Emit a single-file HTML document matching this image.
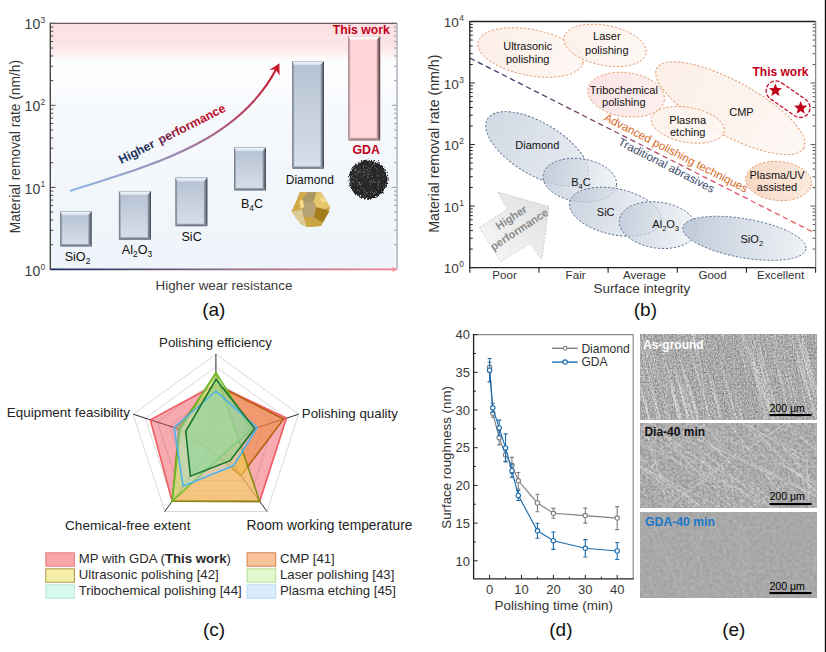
<!DOCTYPE html>
<html><head><meta charset="utf-8"><style>
html,body{margin:0;padding:0;background:#fff;overflow:hidden;}
svg{display:block;font-family:"Liberation Sans", sans-serif;}
</style></head><body>
<svg width="826" height="652" viewBox="0 0 826 652">
<defs>
<linearGradient id="bgA" x1="0" y1="0" x2="0" y2="1">
 <stop offset="0" stop-color="#fbdfe2"/>
 <stop offset="0.09" stop-color="#fce5e7"/>
 <stop offset="0.118" stop-color="#fdedef"/>
 <stop offset="0.142" stop-color="#fef9f9"/>
 <stop offset="0.16" stop-color="#fdfeff"/>
 <stop offset="0.35" stop-color="#f6f9fc"/>
 <stop offset="1" stop-color="#eef4fa"/>
</linearGradient>
<linearGradient id="barFace" x1="0" y1="0" x2="0" y2="1">
 <stop offset="0" stop-color="#b5c1d1"/>
 <stop offset="1" stop-color="#d7dfeb"/>
</linearGradient>
<linearGradient id="barFaceP" x1="0" y1="0" x2="0" y2="1">
 <stop offset="0" stop-color="#ffd3d6"/>
 <stop offset="1" stop-color="#ffd7da"/>
</linearGradient>
<linearGradient id="barRight" x1="1" y1="0" x2="0" y2="0">
 <stop offset="0" stop-color="#4e5666"/>
 <stop offset="1" stop-color="#8d97a7"/>
</linearGradient>
<linearGradient id="barRightP" x1="1" y1="0" x2="0" y2="0">
 <stop offset="0" stop-color="#5e3e44"/>
 <stop offset="1" stop-color="#b58c92"/>
</linearGradient>
<linearGradient id="axA" gradientUnits="userSpaceOnUse" x1="50" y1="0" x2="397" y2="0">
 <stop offset="0" stop-color="#1c2f5c"/>
 <stop offset="0.5" stop-color="#8a6a86"/>
 <stop offset="1" stop-color="#f2858f"/>
</linearGradient>
<linearGradient id="arrA" gradientUnits="userSpaceOnUse" x1="71" y1="191" x2="279" y2="64">
 <stop offset="0" stop-color="#92b8e2"/>
 <stop offset="0.45" stop-color="#9a88b0"/>
 <stop offset="1" stop-color="#c8182c"/>
</linearGradient>
<linearGradient id="hpA" x1="0" y1="0" x2="1" y2="0">
 <stop offset="0" stop-color="#1c3462"/>
 <stop offset="0.28" stop-color="#2a3058"/>
 <stop offset="0.4" stop-color="#6a2448"/>
 <stop offset="0.55" stop-color="#a01832"/>
 <stop offset="1" stop-color="#c4102a"/>
</linearGradient>

<linearGradient id="bvT" x1="0" y1="0" x2="0" y2="1"><stop offset="0" stop-color="#98a6ba"/><stop offset="0.3" stop-color="#edf4fc"/><stop offset="1" stop-color="#d4dde9"/></linearGradient>
<linearGradient id="bvR" x1="1" y1="0" x2="0" y2="0"><stop offset="0" stop-color="#3f444d"/><stop offset="0.45" stop-color="#6c7482"/><stop offset="1" stop-color="#a9b3c3"/></linearGradient>
<linearGradient id="bvB" x1="0" y1="1" x2="0" y2="0"><stop offset="0" stop-color="#5f6571"/><stop offset="0.5" stop-color="#7d8594"/><stop offset="1" stop-color="#b4bccb"/></linearGradient>
<linearGradient id="bvL" x1="0" y1="0" x2="1" y2="0"><stop offset="0" stop-color="#687080"/><stop offset="1" stop-color="#adb7c7"/></linearGradient>
<linearGradient id="bvTP" x1="0" y1="0" x2="0" y2="1"><stop offset="0" stop-color="#e8b8bc"/><stop offset="0.3" stop-color="#ffffff"/><stop offset="1" stop-color="#ffe4e6"/></linearGradient>
<linearGradient id="bvRP" x1="1" y1="0" x2="0" y2="0"><stop offset="0" stop-color="#4a383c"/><stop offset="0.45" stop-color="#86666c"/><stop offset="1" stop-color="#dcb4b8"/></linearGradient>
<linearGradient id="bvBP" x1="0" y1="1" x2="0" y2="0"><stop offset="0" stop-color="#8c6c72"/><stop offset="1" stop-color="#d0aeb2"/></linearGradient>
<linearGradient id="bvLP" x1="0" y1="0" x2="1" y2="0"><stop offset="0" stop-color="#8a7076"/><stop offset="1" stop-color="#e6c2c6"/></linearGradient>

<radialGradient id="gdaBall" cx="0.45" cy="0.42" r="0.6">
 <stop offset="0" stop-color="#2c2c2c"/>
 <stop offset="0.8" stop-color="#222"/>
 <stop offset="1" stop-color="#1c1c1c"/>
</radialGradient>
<filter id="fuzz" x="-20%" y="-20%" width="140%" height="140%">
 <feTurbulence type="turbulence" baseFrequency="0.55" numOctaves="2" seed="3" result="n"/>
 <feDisplacementMap in="SourceGraphic" in2="n" scale="4.5" xChannelSelector="R" yChannelSelector="G"/>
</filter>
<filter id="speck" x="0" y="0" width="100%" height="100%" color-interpolation-filters="sRGB">
 <feTurbulence type="fractalNoise" baseFrequency="0.5" numOctaves="2" seed="7"/>
 <feColorMatrix type="matrix" values="0 0 0 0 0.42  0 0 0 0 0.42  0 0 0 0 0.42  0 0 0 3.5 -1.75"/>
 <feComposite in2="SourceGraphic" operator="in"/>
</filter>

<linearGradient id="dashB" gradientUnits="userSpaceOnUse" x1="470" y1="58" x2="815" y2="232">
 <stop offset="0" stop-color="#2e3868"/>
 <stop offset="0.45" stop-color="#8a4a6a"/>
 <stop offset="0.7" stop-color="#e0506a"/>
 <stop offset="1" stop-color="#f05a64"/>
</linearGradient>
<linearGradient id="blueE" x1="0" y1="0" x2="1" y2="0">
 <stop offset="0" stop-color="#bac5d5"/>
 <stop offset="1" stop-color="#eef1f5"/>
</linearGradient>
<linearGradient id="blueE2" x1="0" y1="0" x2="1" y2="0">
 <stop offset="0" stop-color="#ccd5e1"/>
 <stop offset="1" stop-color="#e6eaf0"/>
</linearGradient>
<linearGradient id="orE" x1="0" y1="0" x2="1" y2="0">
 <stop offset="0" stop-color="#fcefe8"/>
 <stop offset="1" stop-color="#fdf7f3"/>
</linearGradient>
<linearGradient id="pinkE" x1="0" y1="0" x2="1" y2="0">
 <stop offset="0" stop-color="#fbe3e6"/>
 <stop offset="1" stop-color="#fdf0ef"/>
</linearGradient>
<linearGradient id="uvE" x1="0" y1="0" x2="1" y2="0">
 <stop offset="0" stop-color="#f6d9c4"/>
 <stop offset="1" stop-color="#fbeadf"/>
</linearGradient>
<linearGradient id="hpB" x1="0" y1="1" x2="1" y2="0">
 <stop offset="0" stop-color="#f9f9f9"/>
 <stop offset="1" stop-color="#dedede"/>
</linearGradient>

<filter id="semBase1" x="0" y="0" width="100%" height="100%" color-interpolation-filters="sRGB">
 <feTurbulence type="fractalNoise" baseFrequency="0.9 0.6" numOctaves="2" seed="11"/>
 <feColorMatrix type="matrix" values="0.5 0 0 0 0.42  0.5 0 0 0 0.42  0.5 0 0 0 0.42  0 0 0 0 1"/>
</filter>
<filter id="semBase2" x="0" y="0" width="100%" height="100%" color-interpolation-filters="sRGB">
 <feTurbulence type="fractalNoise" baseFrequency="0.35" numOctaves="3" seed="23"/>
 <feColorMatrix type="matrix" values="0.26 0 0 0 0.545  0.26 0 0 0 0.545  0.26 0 0 0 0.545  0 0 0 0 1"/>
</filter>
<filter id="semBase3" x="0" y="0" width="100%" height="100%" color-interpolation-filters="sRGB">
 <feTurbulence type="fractalNoise" baseFrequency="0.3" numOctaves="2" seed="5"/>
 <feColorMatrix type="matrix" values="0.12 0 0 0 0.6  0.12 0 0 0 0.6  0.12 0 0 0 0.6  0 0 0 0 1"/>
</filter>
<filter id="streak" x="0" y="0" width="100%" height="100%" color-interpolation-filters="sRGB">
 <feTurbulence type="fractalNoise" baseFrequency="0.01 0.55" numOctaves="2" seed="3"/>
 <feColorMatrix type="matrix" values="0 0 0 0 1  0 0 0 0 1  0 0 0 0 1  2.6 0 0 0 -1.35"/>
</filter>
<filter id="speck" x="0" y="0" width="100%" height="100%" color-interpolation-filters="sRGB">
 <feTurbulence type="turbulence" baseFrequency="0.9" numOctaves="1" seed="9"/>
 <feColorMatrix type="matrix" values="0 0 0 0 1  0 0 0 0 1  0 0 0 0 1  0 0 0 4 -1.6"/>
</filter>
<clipPath id="c1"><rect x="640" y="334" width="176.3" height="85.6"/></clipPath>
<clipPath id="c2"><rect x="640" y="423.3" width="176.3" height="84.3"/></clipPath>
<clipPath id="c3"><rect x="640" y="512.3" width="176.3" height="85"/></clipPath>
</defs>
<rect width="826" height="652" fill="#fff"/>
<rect x="50.3" y="23.3" width="346.7" height="246.1" fill="url(#bgA)"/>
<path d="M50.3,269.4h5.2 M50.3,244.71h3 M50.3,230.26h3 M50.3,220.01h3 M50.3,212.06h3 M50.3,205.57h3 M50.3,200.07h3 M50.3,195.32h3 M50.3,191.12h3 M50.3,187.37h5.2 M50.3,162.67h3 M50.3,148.23h3 M50.3,137.98h3 M50.3,130.03h3 M50.3,123.53h3 M50.3,118.04h3 M50.3,113.28h3 M50.3,109.09h3 M50.3,105.33h5.2 M50.3,80.64h3 M50.3,66.19h3 M50.3,55.94h3 M50.3,47.99h3 M50.3,41.5h3 M50.3,36.01h3 M50.3,31.25h3 M50.3,27.05h3 M50.3,23.3h5.2" stroke="#4a4a4a" stroke-width="1"/>
<path d="M397.0,269.4h-5.2 M397.0,244.71h-3 M397.0,230.26h-3 M397.0,220.01h-3 M397.0,212.06h-3 M397.0,205.57h-3 M397.0,200.07h-3 M397.0,195.32h-3 M397.0,191.12h-3 M397.0,187.37h-5.2 M397.0,162.67h-3 M397.0,148.23h-3 M397.0,137.98h-3 M397.0,130.03h-3 M397.0,123.53h-3 M397.0,118.04h-3 M397.0,113.28h-3 M397.0,109.09h-3 M397.0,105.33h-5.2 M397.0,80.64h-3 M397.0,66.19h-3 M397.0,55.94h-3 M397.0,47.99h-3 M397.0,41.5h-3 M397.0,36.01h-3 M397.0,31.25h-3 M397.0,27.05h-3 M397.0,23.3h-5.2" stroke="#9aa0a8" stroke-width="1"/>
<line x1="50.3" y1="23.3" x2="397.0" y2="23.3" stroke="#6e5c60" stroke-width="1.3"/>
<line x1="50.3" y1="22.7" x2="50.3" y2="269.4" stroke="#474747" stroke-width="1.4"/>
<line x1="397.0" y1="23.3" x2="397.0" y2="269.4" stroke="#a4aab2" stroke-width="1.3"/>
<line x1="50.3" y1="269.4" x2="394.0" y2="269.4" stroke="url(#axA)" stroke-width="1.6"/>
<path d="M397.5,269.4 L392.0,266.79999999999995 L393.4,269.4 L392.0,272.0Z" fill="#f2858f"/>
<text x="40.2" y="275.95" font-size="14" text-anchor="end" fill="#3c3c3c">10</text>
<text x="40.6" y="269.65" font-size="8.6" fill="#3c3c3c">0</text>
<text x="40.2" y="193.67" font-size="14" text-anchor="end" fill="#3c3c3c">10</text>
<text x="40.6" y="187.37" font-size="8.6" fill="#3c3c3c">1</text>
<text x="40.2" y="111.38" font-size="14" text-anchor="end" fill="#3c3c3c">10</text>
<text x="40.6" y="105.08" font-size="8.6" fill="#3c3c3c">2</text>
<text x="40.2" y="29.1" font-size="14" text-anchor="end" fill="#3c3c3c">10</text>
<text x="40.6" y="22.8" font-size="8.6" fill="#3c3c3c">3</text>
<text transform="translate(19.6,146.5) rotate(-90)" font-size="13.8" text-anchor="middle" fill="#333">Material removal rate (nm/h)</text>
<text x="224" y="290" font-size="13.4" text-anchor="middle" fill="#3a3a3a" font-weight="normal" >Higher wear resistance</text>
<text x="213.8" y="316" font-size="19" text-anchor="middle" fill="#111" font-weight="normal" >(a)</text>
<rect x="60.2" y="211.2" width="31.5" height="35.3" fill="url(#barFace)"/><polygon points="60.2,211.2 91.7,211.2 88.1,215.2 62.2,215.2" fill="url(#bvT)"/><polygon points="60.2,246.5 91.7,246.5 88.1,243.9 62.2,243.9" fill="url(#bvB)"/><polygon points="91.7,211.2 91.7,246.5 88.1,243.9 88.1,215.2" fill="url(#bvR)"/><polygon points="60.2,211.2 62.2,215.2 62.2,243.9 60.2,246.5" fill="url(#bvL)"/>
<rect x="118.9" y="191" width="32.1" height="48.7" fill="url(#barFace)"/><polygon points="118.9,191 151,191 147.4,195 120.9,195" fill="url(#bvT)"/><polygon points="118.9,239.7 151,239.7 147.4,237.1 120.9,237.1" fill="url(#bvB)"/><polygon points="151,191 151,239.7 147.4,237.1 147.4,195" fill="url(#bvR)"/><polygon points="118.9,191 120.9,195 120.9,237.1 118.9,239.7" fill="url(#bvL)"/>
<rect x="175.4" y="177.5" width="32" height="48.7" fill="url(#barFace)"/><polygon points="175.4,177.5 207.4,177.5 203.8,181.5 177.4,181.5" fill="url(#bvT)"/><polygon points="175.4,226.2 207.4,226.2 203.8,223.6 177.4,223.6" fill="url(#bvB)"/><polygon points="207.4,177.5 207.4,226.2 203.8,223.6 203.8,181.5" fill="url(#bvR)"/><polygon points="175.4,177.5 177.4,181.5 177.4,223.6 175.4,226.2" fill="url(#bvL)"/>
<rect x="234" y="147.3" width="32" height="43.1" fill="url(#barFace)"/><polygon points="234,147.3 266,147.3 262.4,151.3 236,151.3" fill="url(#bvT)"/><polygon points="234,190.4 266,190.4 262.4,187.8 236,187.8" fill="url(#bvB)"/><polygon points="266,147.3 266,190.4 262.4,187.8 262.4,151.3" fill="url(#bvR)"/><polygon points="234,147.3 236,151.3 236,187.8 234,190.4" fill="url(#bvL)"/>
<rect x="292.2" y="61" width="31.8" height="107.8" fill="url(#barFace)"/><polygon points="292.2,61 324,61 320.4,65 294.2,65" fill="url(#bvT)"/><polygon points="292.2,168.8 324,168.8 320.4,166.2 294.2,166.2" fill="url(#bvB)"/><polygon points="324,61 324,168.8 320.4,166.2 320.4,65" fill="url(#bvR)"/><polygon points="292.2,61 294.2,65 294.2,166.2 292.2,168.8" fill="url(#bvL)"/>
<rect x="348.3" y="36" width="31.9" height="104.4" fill="url(#barFaceP)"/><polygon points="348.3,36 380.2,36 376.6,40 350.3,40" fill="url(#bvTP)"/><polygon points="348.3,140.4 380.2,140.4 376.6,137.8 350.3,137.8" fill="url(#bvBP)"/><polygon points="380.2,36 380.2,140.4 376.6,137.8 376.6,40" fill="url(#bvRP)"/><polygon points="348.3,36 350.3,40 350.3,137.8 348.3,140.4" fill="url(#bvLP)"/>
<text x="77.5" y="260.8" font-size="12.6" fill="#111" text-anchor="middle">SiO<tspan font-size="8.5" dy="3">2</tspan></text>
<text x="137" y="253.5" font-size="12.6" fill="#111" text-anchor="middle">Al<tspan font-size="8.5" dy="3">2</tspan><tspan dy="-3">O</tspan><tspan font-size="8.5" dy="3">3</tspan></text>
<text x="191.6" y="241.4" font-size="12.6" fill="#111" text-anchor="middle">SiC</text>
<text x="252" y="207.6" font-size="12.6" fill="#111" text-anchor="middle">B<tspan font-size="8.5" dy="3">4</tspan><tspan dy="-3">C</tspan></text>
<text x="309.8" y="183.5" font-size="12" fill="#111" text-anchor="middle">Diamond</text>
<text x="366.2" y="154" font-size="12.4" fill="#c00018" font-weight="bold" text-anchor="middle">GDA</text>
<text x="361.3" y="34" font-size="12.2" fill="#c00018" font-weight="bold" text-anchor="middle">This work</text>
<path d="M70.8,190.8 C148.7,165.9 238,143 276.5,68.5" fill="none" stroke="url(#arrA)" stroke-width="2.1" stroke-linecap="round"/>
<path d="M279.4,63.2 L269.4,69.9 L275.6,69.6 L279.6,75.6 Z" fill="#c8182c"/>
<text transform="translate(121.3,164.1) rotate(-26.8)" font-size="12.2" font-weight="bold" fill="url(#hpA)" word-spacing="2">Higher performance</text>
<g filter="url(#fuzz)"><circle cx="367.1" cy="178.3" r="19.6" fill="url(#gdaBall)"/><circle cx="367.1" cy="178.3" r="19.2" fill="#000" filter="url(#speck)"/></g>
<g stroke-linejoin="round">
<polygon points="299.9,192.2 320.9,192.2 329.9,206.7 329.2,211.2 320.9,226 306.7,227 300.6,224.1 291.5,211.8 296.4,200.9" fill="#c8a450"/>
<polygon points="301.9,199.3 307.3,192.2 316.4,192.2 313.8,201.5 304.8,202.8" fill="#a99866"/>
<polygon points="304.8,202.8 313.8,201.5 316.4,207.3 313.8,217.6 303.5,217 301.9,209.3" fill="#b6a274"/>
<polygon points="316.4,192.2 320.9,192.2 329.9,206.7 324.1,209.3 316.4,207.3 313.8,201.5" fill="#e6c66c"/>
<polygon points="316.4,207.3 324.1,209.3 329.2,211.2 322.8,222.8 313.8,217.6" fill="#a47c1c"/>
<polygon points="313.8,217.6 322.8,222.8 320.9,226 306.7,227 303.5,217" fill="#cba444"/>
<polygon points="291.5,211.8 301.9,209.3 303.5,217 306.7,227 300.6,224.1" fill="#dccb98"/>
<polygon points="296.4,200.9 299.9,192.2 307.3,192.2 301.9,199.3 301.9,209.3 291.5,211.8" fill="#d4aa48"/>
<polygon points="299.5,201 303,199.5 304,207 300.5,209" fill="#f6dc88"/>
<polygon points="322,196 326,201 324,204 319.5,199" fill="#f4dc90" opacity="0.8"/>
</g>
<ellipse cx="530.5" cy="52.5" rx="53.5" ry="23" transform="rotate(11 530.5 52.5)" fill="url(#orE)" fill-opacity="1.0" stroke="#e2925e" stroke-width="0.9" stroke-dasharray="2.2,1.8"/>
<ellipse cx="605" cy="45.4" rx="41.8" ry="20" transform="rotate(11 605 45.4)" fill="url(#orE)" fill-opacity="0.85" stroke="#e2925e" stroke-width="0.9" stroke-dasharray="2.2,1.8"/>
<ellipse cx="626.2" cy="94.7" rx="38.5" ry="22" transform="rotate(8 626.2 94.7)" fill="url(#pinkE)" fill-opacity="1.0" stroke="#e2925e" stroke-width="0.9" stroke-dasharray="2.2,1.8"/>
<ellipse cx="730.3" cy="108.2" rx="83.6" ry="27" transform="rotate(28.5 730.3 108.2)" fill="url(#orE)" fill-opacity="1.0" stroke="#e2925e" stroke-width="0.9" stroke-dasharray="2.2,1.8"/>
<ellipse cx="687.7" cy="124.8" rx="37" ry="17.5" transform="rotate(10 687.7 124.8)" fill="url(#orE)" fill-opacity="0.8" stroke="#e2925e" stroke-width="0.9" stroke-dasharray="2.2,1.8"/>
<ellipse cx="778.6" cy="181" rx="33" ry="19.5" transform="rotate(5 778.6 181)" fill="url(#uvE)" fill-opacity="1.0" stroke="#e2925e" stroke-width="0.9" stroke-dasharray="2.2,1.8"/>
<ellipse cx="537.2" cy="148.9" rx="58" ry="26" transform="rotate(31 537.2 148.9)" fill="url(#blueE2)" fill-opacity="0.9" stroke="#51698e" stroke-width="0.9" stroke-dasharray="2.2,1.8"/>
<ellipse cx="579.8" cy="180.2" rx="37" ry="21.5" transform="rotate(8 579.8 180.2)" fill="url(#blueE)" fill-opacity="0.75" stroke="#51698e" stroke-width="0.9" stroke-dasharray="2.2,1.8"/>
<ellipse cx="615.2" cy="211.7" rx="46.5" ry="23" transform="rotate(12 615.2 211.7)" fill="url(#blueE)" fill-opacity="0.75" stroke="#51698e" stroke-width="0.9" stroke-dasharray="2.2,1.8"/>
<ellipse cx="658" cy="225.1" rx="39" ry="23" transform="rotate(8 658 225.1)" fill="url(#blueE)" fill-opacity="0.7" stroke="#51698e" stroke-width="0.9" stroke-dasharray="2.2,1.8"/>
<ellipse cx="744.4" cy="238.3" rx="62.5" ry="19.5" transform="rotate(10 744.4 238.3)" fill="url(#blueE)" fill-opacity="0.9" stroke="#51698e" stroke-width="0.9" stroke-dasharray="2.2,1.8"/>
<line x1="469.8" y1="58" x2="815.6" y2="233.4" stroke="url(#dashB)" stroke-width="1.3" stroke-dasharray="5.5,3.5"/>
<polygon points="479.4,227.6 507.3,209 497.6,192.1 549,206.5 541.8,259.4 530,243.5 501,261.4" fill="url(#hpB)" stroke="#c4c4c4" stroke-width="0.8" stroke-dasharray="2,1.6"/>
<text transform="translate(513.3,220.6) rotate(-33.3)" font-size="11" font-weight="bold" fill="#8a8a8a" text-anchor="middle">Higher</text>
<text transform="translate(521.3,232.6) rotate(-33.3)" font-size="11" font-weight="bold" fill="#8a8a8a" text-anchor="middle">performance</text>
<text x="527.7" y="49.9" font-size="11" fill="#111" text-anchor="middle">Ultrasonic</text><text x="527.7" y="62.5" font-size="11" fill="#111" text-anchor="middle">polishing</text>
<text x="606.8" y="40" font-size="11" fill="#111" text-anchor="middle">Laser</text><text x="606.8" y="53.6" font-size="11" fill="#111" text-anchor="middle">polishing</text>
<text x="623.8" y="94.2" font-size="11" fill="#111" text-anchor="middle">Tribochemical</text><text x="623.8" y="105.9" font-size="11" fill="#111" text-anchor="middle">polishing</text>
<text x="741.5" y="116" font-size="11" fill="#111" text-anchor="middle">CMP</text>
<text x="687.7" y="123.9" font-size="11" fill="#111" text-anchor="middle">Plasma</text><text x="687.7" y="136.4" font-size="11" fill="#111" text-anchor="middle">etching</text>
<text x="777" y="178.6" font-size="11" fill="#111" text-anchor="middle">Plasma/UV</text><text x="777" y="191.4" font-size="11" fill="#111" text-anchor="middle">assisted</text>
<text x="537.3" y="148.8" font-size="11" fill="#111" text-anchor="middle">Diamond</text>
<text x="580.9" y="186" font-size="11" fill="#111" text-anchor="middle">B<tspan font-size="7.5" dy="2.5">4</tspan><tspan dy="-2.5">C</tspan></text>
<text x="605.7" y="215.6" font-size="11" fill="#111" text-anchor="middle">SiC</text>
<text x="665.7" y="228.2" font-size="11" fill="#111" text-anchor="middle">Al<tspan font-size="7.5" dy="2.5">2</tspan><tspan dy="-2.5">O</tspan><tspan font-size="7.5" dy="2.5">3</tspan></text>
<text x="751.8" y="243.3" font-size="11" fill="#111" text-anchor="middle">SiO<tspan font-size="7.5" dy="2.5">2</tspan></text>
<text transform="translate(603.2,119.9) rotate(27.2)" font-size="11.6" fill="#d8691f">Advanced polishing techniques</text>
<text transform="translate(617.2,144.4) rotate(27.2)" font-size="11.6" fill="#3b4a6b">Traditional abrasives</text>
<text x="780.5" y="75.9" font-size="12" font-weight="bold" fill="#c00018" text-anchor="middle">This work</text>
<polygon points="775.4,83.4 777.16,87.97 782.06,88.24 778.25,91.33 779.51,96.06 775.4,93.4 771.29,96.06 772.55,91.33 768.74,88.24 773.64,87.97" fill="#c00018"/>
<polygon points="800.7,101 802.46,105.57 807.36,105.84 803.55,108.93 804.81,113.66 800.7,111 796.59,113.66 797.85,108.93 794.04,105.84 798.94,105.57" fill="#c00018"/>
<rect x="763.45" y="89.4" width="49.2" height="19.6" rx="9.8" ry="9.8" transform="rotate(35 788.05 99.2)" fill="none" stroke="#c8102a" stroke-width="1.3" stroke-dasharray="4,1.7"/>
<path d="M469.8,267.6h5 M469.8,249.08h3 M469.8,238.25h3 M469.8,230.56h3 M469.8,224.6h3 M469.8,219.72h3 M469.8,215.61h3 M469.8,212.04h3 M469.8,208.89h3 M469.8,206.08h5 M469.8,187.55h3 M469.8,176.72h3 M469.8,169.03h3 M469.8,163.07h3 M469.8,158.2h3 M469.8,154.08h3 M469.8,150.51h3 M469.8,147.37h3 M469.8,144.55h5 M469.8,126.03h3 M469.8,115.2h3 M469.8,107.51h3 M469.8,101.55h3 M469.8,96.67h3 M469.8,92.56h3 M469.8,88.99h3 M469.8,85.84h3 M469.8,83.03h5 M469.8,64.5h3 M469.8,53.67h3 M469.8,45.98h3 M469.8,40.02h3 M469.8,35.15h3 M469.8,31.03h3 M469.8,27.46h3 M469.8,24.32h3 M469.8,21.5h5" stroke="#222" stroke-width="1"/>
<path d="M815.6,267.6h-5 M815.6,249.08h-3 M815.6,238.25h-3 M815.6,230.56h-3 M815.6,224.6h-3 M815.6,219.72h-3 M815.6,215.61h-3 M815.6,212.04h-3 M815.6,208.89h-3 M815.6,206.08h-5 M815.6,187.55h-3 M815.6,176.72h-3 M815.6,169.03h-3 M815.6,163.07h-3 M815.6,158.2h-3 M815.6,154.08h-3 M815.6,150.51h-3 M815.6,147.37h-3 M815.6,144.55h-5 M815.6,126.03h-3 M815.6,115.2h-3 M815.6,107.51h-3 M815.6,101.55h-3 M815.6,96.67h-3 M815.6,92.56h-3 M815.6,88.99h-3 M815.6,85.84h-3 M815.6,83.03h-5 M815.6,64.5h-3 M815.6,53.67h-3 M815.6,45.98h-3 M815.6,40.02h-3 M815.6,35.15h-3 M815.6,31.03h-3 M815.6,27.46h-3 M815.6,24.32h-3 M815.6,21.5h-5" stroke="#555" stroke-width="1"/>
<path d="M469.8,21.5H815.6" stroke="#222" stroke-width="1.3"/>
<path d="M469.8,20.9V267.6H815.6" stroke="#222" stroke-width="1.3" fill="none"/>
<path d="M815.6,21.5V267.6" stroke="#8a8a8a" stroke-width="1.3"/>
<path d="M469.8,267.6v5.2 M538.96,267.6v5.2 M608.12,267.6v5.2 M677.28,267.6v5.2 M746.44,267.6v5.2 M815.6,267.6v5.2" stroke="#222" stroke-width="1.1"/>
<text x="504.5" y="278.9" font-size="11.6" fill="#333" text-anchor="middle">Poor</text>
<text x="575.6" y="278.9" font-size="11.6" fill="#333" text-anchor="middle">Fair</text>
<text x="644.4" y="278.9" font-size="11.6" fill="#333" text-anchor="middle">Average</text>
<text x="712.6" y="278.9" font-size="11.6" fill="#333" text-anchor="middle">Good</text>
<text x="780.6" y="278.9" font-size="11.6" fill="#333" text-anchor="middle">Excellent</text>
<text x="458.8" y="273.4" font-size="13.6" text-anchor="end" fill="#3c3c3c">10</text>
<text x="459.3" y="267.2" font-size="8.4" fill="#3c3c3c">0</text>
<text x="458.8" y="211.88" font-size="13.6" text-anchor="end" fill="#3c3c3c">10</text>
<text x="459.3" y="205.68" font-size="8.4" fill="#3c3c3c">1</text>
<text x="458.8" y="150.35" font-size="13.6" text-anchor="end" fill="#3c3c3c">10</text>
<text x="459.3" y="144.15" font-size="8.4" fill="#3c3c3c">2</text>
<text x="458.8" y="88.83" font-size="13.6" text-anchor="end" fill="#3c3c3c">10</text>
<text x="459.3" y="82.62" font-size="8.4" fill="#3c3c3c">3</text>
<text x="458.8" y="27.3" font-size="13.6" text-anchor="end" fill="#3c3c3c">10</text>
<text x="459.3" y="21.1" font-size="8.4" fill="#3c3c3c">4</text>
<text transform="translate(439,143.6) rotate(-90)" font-size="14.2" text-anchor="middle" fill="#333">Material removal rate (nm/h)</text>
<text x="641.9" y="293.3" font-size="13.4" text-anchor="middle" fill="#333" font-weight="normal" >Surface integrity</text>
<text x="645.4" y="315.8" font-size="19" text-anchor="middle" fill="#111" font-weight="normal" >(b)</text>
<polygon points="215.9,354.1 298.64,414.22 267.04,511.48 164.76,511.48 133.16,414.22" fill="none" stroke="#bdbdbd" stroke-width="0.6"/>
<polygon points="215.9,366.9 286.47,418.17 259.51,501.13 172.29,501.13 145.33,418.17" fill="none" stroke="#bdbdbd" stroke-width="0.6"/>
<polygon points="215.9,379.7 274.29,422.13 251.99,490.77 179.81,490.77 157.51,422.13" fill="none" stroke="#bdbdbd" stroke-width="0.6"/>
<polygon points="215.9,392.5 262.12,426.08 244.47,480.42 187.33,480.42 169.68,426.08" fill="none" stroke="#bdbdbd" stroke-width="0.6"/>
<polygon points="215.9,405.3 249.95,430.04 236.94,470.06 194.86,470.06 181.85,430.04" fill="none" stroke="#bdbdbd" stroke-width="0.6"/>
<polygon points="215.9,418.1 237.77,433.99 229.42,459.71 202.38,459.71 194.03,433.99" fill="none" stroke="#bdbdbd" stroke-width="0.6"/>
<polygon points="215.9,430.9 225.6,437.95 221.9,449.35 209.9,449.35 206.2,437.95" fill="none" stroke="#bdbdbd" stroke-width="0.6"/>
<line x1="215.9" y1="441.1" x2="215.9" y2="354.1" stroke="#2a2a2a" stroke-width="1"/>
<line x1="215.9" y1="441.1" x2="298.64" y2="414.22" stroke="#2a2a2a" stroke-width="1"/>
<line x1="215.9" y1="441.1" x2="267.04" y2="511.48" stroke="#2a2a2a" stroke-width="1"/>
<line x1="215.9" y1="441.1" x2="164.76" y2="511.48" stroke="#2a2a2a" stroke-width="1"/>
<line x1="215.9" y1="441.1" x2="133.16" y2="414.22" stroke="#2a2a2a" stroke-width="1"/>
<polygon points="215.9,384.5 286.47,418.17 259.69,501.37 172.17,501.29 150.28,419.78" fill="#ee4a55" fill-opacity="0.47"/>
<polygon points="215.9,384.5 286.47,418.17 259.69,501.37 172.17,501.29 150.28,419.78" fill="none" stroke="#f25c62" stroke-width="1.6" stroke-linejoin="miter"/>
<polygon points="215.9,384.5 283.52,419.13 241,475.65 209.61,449.76 175.77,428.06" fill="#ee8a3a" fill-opacity="0.55"/>
<polygon points="215.9,384.5 283.52,419.13 241,475.65 209.61,449.76 175.77,428.06" fill="none" stroke="#b4600e" stroke-width="1.6" stroke-linejoin="miter"/>
<polygon points="215.9,373.5 236.82,434.3 259.69,501.37 172.17,501.29 178.81,429.05" fill="#f2d85a" fill-opacity="0.55"/>
<polygon points="215.9,373.5 236.82,434.3 259.69,501.37 172.17,501.29 178.81,429.05" fill="none" stroke="#878a12" stroke-width="1.6" stroke-linejoin="miter"/>
<polygon points="215.9,372.4 251.18,429.64 224.54,452.99 172.17,501.29 180.24,429.51" fill="#b4e888" fill-opacity="0.45"/>
<polygon points="215.9,372.4 251.18,429.64 224.54,452.99 172.17,501.29 180.24,429.51" fill="none" stroke="#6cbd2c" stroke-width="1.6" stroke-linejoin="miter"/>
<polygon points="215.9,391.2 257.18,427.69 233.71,465.61 183.1,486.24 174.05,427.5" fill="#a8d6f8" fill-opacity="0.35"/>
<polygon points="215.9,379.3 254.7,428.49 230.12,460.68 190.39,476.21 185.75,431.3" fill="#7ed890" fill-opacity="0.45"/>
<polygon points="215.9,391.2 257.18,427.69 233.71,465.61 183.1,486.24 174.05,427.5" fill="none" stroke="#4cb2f0" stroke-width="1.6" stroke-linejoin="miter"/>
<polygon points="215.9,379.3 254.7,428.49 230.12,460.68 190.39,476.21 185.75,431.3" fill="none" stroke="#17782c" stroke-width="1.6" stroke-linejoin="miter"/>
<text x="215.5" y="346.6" font-size="13.3" fill="#222" text-anchor="middle">Polishing efficiency</text>
<text x="6.8" y="416.6" font-size="13.45" fill="#222">Equipment feasibility</text>
<text x="301.8" y="417.6" font-size="13.3" fill="#222">Polishing quality</text>
<text x="65" y="529.5" font-size="13.6" fill="#222">Chemical-free extent</text>
<text x="246.6" y="529.9" font-size="13.75" fill="#222">Room working temperature</text>
<rect x="45.8" y="552.8" width="28.6" height="13.4" fill="#f8a6aa" stroke="#ef7c80" stroke-width="1"/>
<text x="78.7" y="563.3" font-size="13.2" fill="#2a2a2a">MP with GDA (<tspan font-weight="bold">This work</tspan>)</text>
<rect x="45.8" y="568.8" width="28.6" height="13.4" fill="#f5eeab" stroke="#a8983c" stroke-width="1"/>
<text x="78.7" y="579.3" font-size="13.2" fill="#2a2a2a">Ultrasonic polishing [42]</text>
<rect x="45.8" y="584.8" width="28.6" height="13.4" fill="#d9fbee" stroke="#b4e8d2" stroke-width="1"/>
<text x="78.7" y="595.3" font-size="13.2" fill="#2a2a2a">Tribochemical polishing [44]</text>
<rect x="247.1" y="552.8" width="28.6" height="13.4" fill="#f8c29b" stroke="#d5824e" stroke-width="1"/>
<text x="280" y="563.3" font-size="13.2" fill="#2a2a2a">CMP [41]</text>
<rect x="247.1" y="568.8" width="28.6" height="13.4" fill="#e2f8cc" stroke="#b6df94" stroke-width="1"/>
<text x="280" y="579.3" font-size="13.2" fill="#2a2a2a">Laser polishing [43]</text>
<rect x="247.1" y="584.8" width="28.6" height="13.4" fill="#daedfd" stroke="#b9daf3" stroke-width="1"/>
<text x="280" y="595.3" font-size="13.2" fill="#2a2a2a">Plasma etching [45]</text>
<text x="214" y="635.9" font-size="19" text-anchor="middle" fill="#111" font-weight="normal" >(c)</text>
<path d="M473.6,334.7H633.2V578.9" stroke="#8c8c8c" stroke-width="1.2" fill="none"/>
<path d="M473.6,334.09999999999997V578.9H633.8000000000001" stroke="#222" stroke-width="1.3" fill="none"/>
<path d="M473.6,560.8h4 M473.6,523.1h4 M473.6,485.4h4 M473.6,447.7h4 M473.6,410h4 M473.6,372.3h4 M473.6,334.6h4 M473.6,541.95h2.3 M473.6,504.25h2.3 M473.6,466.55h2.3 M473.6,428.85h2.3 M473.6,391.15h2.3 M473.6,353.45h2.3 M489.6,578.9v-4 M521.5,578.9v-4 M553.4,578.9v-4 M585.3,578.9v-4 M617.2,578.9v-4 M505.55,578.9v-2.3 M537.45,578.9v-2.3 M569.35,578.9v-2.3 M601.25,578.9v-2.3" stroke="#222" stroke-width="1"/>
<text x="470" y="565.5" font-size="13" text-anchor="end" fill="#3a3a3a">10</text>
<text x="470" y="527.8" font-size="13" text-anchor="end" fill="#3a3a3a">15</text>
<text x="470" y="490.1" font-size="13" text-anchor="end" fill="#3a3a3a">20</text>
<text x="470" y="452.4" font-size="13" text-anchor="end" fill="#3a3a3a">25</text>
<text x="470" y="414.7" font-size="13" text-anchor="end" fill="#3a3a3a">30</text>
<text x="470" y="377" font-size="13" text-anchor="end" fill="#3a3a3a">35</text>
<text x="470" y="339.3" font-size="13" text-anchor="end" fill="#3a3a3a">40</text>
<text x="489.6" y="593.8" font-size="13" text-anchor="middle" fill="#3a3a3a">0</text>
<text x="521.5" y="593.8" font-size="13" text-anchor="middle" fill="#3a3a3a">10</text>
<text x="553.4" y="593.8" font-size="13" text-anchor="middle" fill="#3a3a3a">20</text>
<text x="585.3" y="593.8" font-size="13" text-anchor="middle" fill="#3a3a3a">30</text>
<text x="617.2" y="593.8" font-size="13" text-anchor="middle" fill="#3a3a3a">40</text>
<text transform="translate(451.2,457.4) rotate(-90)" font-size="13.3" text-anchor="middle" fill="#333">Surface roughness (nm)</text>
<text x="553.8" y="609.7" font-size="13.5" text-anchor="middle" fill="#333" font-weight="normal" >Polishing time (min)</text>
<text x="560.9" y="636.1" font-size="19" text-anchor="middle" fill="#111" font-weight="normal" >(d)</text>
<polyline points="489.6,367.2 492.79,413.2 499.17,437.7 505.55,455 511.93,465.4 518.31,480.8 537.45,503 553.4,513.3 585.3,515.6 617.2,518.1" fill="none" stroke="#7f7f7f" stroke-width="1.15"/>
<path d="M489.6,362.2V372.2M487.6,362.2h4M487.6,372.2h4M492.79,409.2V417.2M490.79,409.2h4M490.79,417.2h4M499.17,430.5V444.9M497.17,430.5h4M497.17,444.9h4M505.55,449V461M503.55,449h4M503.55,461h4M511.93,457.4V473.4M509.93,457.4h4M509.93,473.4h4M518.31,472.5V489.1M516.31,472.5h4M516.31,489.1h4M537.45,494.3V511.7M535.45,494.3h4M535.45,511.7h4M553.4,508.4V518.2M551.4,508.4h4M551.4,518.2h4M585.3,508.1V523.1M583.3,508.1h4M583.3,523.1h4M617.2,506.6V529.6M615.2,506.6h4M615.2,529.6h4" stroke="#7f7f7f" stroke-width="1.1" fill="none"/>
<circle cx="489.6" cy="367.2" r="2.2" fill="#fff" stroke="#7f7f7f" stroke-width="1.1"/>
<circle cx="492.79" cy="413.2" r="2.2" fill="#fff" stroke="#7f7f7f" stroke-width="1.1"/>
<circle cx="499.17" cy="437.7" r="2.2" fill="#fff" stroke="#7f7f7f" stroke-width="1.1"/>
<circle cx="505.55" cy="455" r="2.2" fill="#fff" stroke="#7f7f7f" stroke-width="1.1"/>
<circle cx="511.93" cy="465.4" r="2.2" fill="#fff" stroke="#7f7f7f" stroke-width="1.1"/>
<circle cx="518.31" cy="480.8" r="2.2" fill="#fff" stroke="#7f7f7f" stroke-width="1.1"/>
<circle cx="537.45" cy="503" r="2.2" fill="#fff" stroke="#7f7f7f" stroke-width="1.1"/>
<circle cx="553.4" cy="513.3" r="2.2" fill="#fff" stroke="#7f7f7f" stroke-width="1.1"/>
<circle cx="585.3" cy="515.6" r="2.2" fill="#fff" stroke="#7f7f7f" stroke-width="1.1"/>
<circle cx="617.2" cy="518.1" r="2.2" fill="#fff" stroke="#7f7f7f" stroke-width="1.1"/>
<polyline points="489.6,370.2 492.79,407.8 499.17,427.9 505.55,447.9 511.93,470.7 518.31,495.5 537.45,530.8 553.4,540.7 585.3,548.3 617.2,551" fill="none" stroke="#1b6db0" stroke-width="1.15"/>
<path d="M489.6,358.5V381.9M487.6,358.5h4M487.6,381.9h4M492.79,403.3V412.3M490.79,403.3h4M490.79,412.3h4M499.17,420.1V435.7M497.17,420.1h4M497.17,435.7h4M505.55,433.9V461.9M503.55,433.9h4M503.55,461.9h4M511.93,464V477.4M509.93,464h4M509.93,477.4h4M518.31,490.5V500.5M516.31,490.5h4M516.31,500.5h4M537.45,523.3V538.3M535.45,523.3h4M535.45,538.3h4M553.4,532V549.4M551.4,532h4M551.4,549.4h4M585.3,539.6V557M583.3,539.6h4M583.3,557h4M617.2,542.5V559.5M615.2,542.5h4M615.2,559.5h4" stroke="#1b6db0" stroke-width="1.1" fill="none"/>
<circle cx="489.6" cy="370.2" r="2.2" fill="#fff" stroke="#1b6db0" stroke-width="1.1"/>
<circle cx="492.79" cy="407.8" r="2.2" fill="#fff" stroke="#1b6db0" stroke-width="1.1"/>
<circle cx="499.17" cy="427.9" r="2.2" fill="#fff" stroke="#1b6db0" stroke-width="1.1"/>
<circle cx="505.55" cy="447.9" r="2.2" fill="#fff" stroke="#1b6db0" stroke-width="1.1"/>
<circle cx="511.93" cy="470.7" r="2.2" fill="#fff" stroke="#1b6db0" stroke-width="1.1"/>
<circle cx="518.31" cy="495.5" r="2.2" fill="#fff" stroke="#1b6db0" stroke-width="1.1"/>
<circle cx="537.45" cy="530.8" r="2.2" fill="#fff" stroke="#1b6db0" stroke-width="1.1"/>
<circle cx="553.4" cy="540.7" r="2.2" fill="#fff" stroke="#1b6db0" stroke-width="1.1"/>
<circle cx="585.3" cy="548.3" r="2.2" fill="#fff" stroke="#1b6db0" stroke-width="1.1"/>
<circle cx="617.2" cy="551" r="2.2" fill="#fff" stroke="#1b6db0" stroke-width="1.1"/>
<line x1="552.1" y1="348.3" x2="577.7" y2="348.3" stroke="#7f7f7f" stroke-width="1.4"/><circle cx="565.2" cy="348.3" r="1.9" fill="#fff" stroke="#7f7f7f" stroke-width="1.1"/>
<line x1="552.1" y1="362.1" x2="577.7" y2="362.1" stroke="#1b6db0" stroke-width="1.4"/><circle cx="565.2" cy="362.1" r="2.2" fill="#fff" stroke="#1b6db0" stroke-width="1.1"/>
<text x="581.4" y="352.6" font-size="12.1" fill="#333">Diamond</text>
<text x="581.4" y="366.4" font-size="12.1" fill="#333">GDA</text>
<rect x="640" y="334" width="176.3" height="85.6" filter="url(#semBase1)"/>
<g clip-path="url(#c1)"><rect x="560" y="290" width="340" height="180" transform="rotate(75 728 377)" filter="url(#streak)" opacity="0.75"/></g>
<rect x="640" y="423.3" width="176.3" height="84.3" filter="url(#semBase2)"/>
<rect x="640" y="512.3" width="176.3" height="85" filter="url(#semBase3)"/>
<g clip-path="url(#c1)" stroke="#fff" stroke-width="0.6" fill="none"><line x1="731.21" y1="285.04" x2="768.05" y2="510.54" stroke-opacity="0.3"/><line x1="773.61" y1="225.83" x2="831.05" y2="447.16" stroke-opacity="0.28"/><line x1="787.38" y1="300.5" x2="809.74" y2="386.97" stroke-opacity="0.25"/><line x1="725.77" y1="289.67" x2="756.25" y2="380.59" stroke-opacity="0.33"/><line x1="769.32" y1="314.29" x2="780.21" y2="381.16" stroke-opacity="0.27"/><line x1="656.56" y1="293.61" x2="668.04" y2="374.69" stroke-opacity="0.19"/><line x1="778.23" y1="298.18" x2="847.58" y2="519.88" stroke-opacity="0.25"/><line x1="748.53" y1="263.2" x2="770.07" y2="440.02" stroke-opacity="0.34"/><line x1="787.08" y1="324.56" x2="807.52" y2="394.83" stroke-opacity="0.17"/><line x1="647.11" y1="340.05" x2="655.81" y2="379.78" stroke-opacity="0.28"/><line x1="688.93" y1="293.4" x2="710.01" y2="427.91" stroke-opacity="0.21"/><line x1="682.41" y1="284.96" x2="766.97" y2="504.24" stroke-opacity="0.14"/><line x1="735.43" y1="314.89" x2="808.5" y2="498.43" stroke-opacity="0.22"/><line x1="728.01" y1="299.28" x2="755.63" y2="370.28" stroke-opacity="0.34"/><line x1="660.42" y1="285.67" x2="688.75" y2="512.32" stroke-opacity="0.21"/><line x1="697.31" y1="348.75" x2="707.58" y2="409.5" stroke-opacity="0.3"/><line x1="738.48" y1="301.26" x2="822.15" y2="514.6" stroke-opacity="0.16"/><line x1="693.1" y1="332.97" x2="706.84" y2="440.09" stroke-opacity="0.33"/><line x1="724.95" y1="324.76" x2="746.94" y2="396.98" stroke-opacity="0.16"/><line x1="662.39" y1="357.32" x2="670.01" y2="429.22" stroke-opacity="0.15"/><line x1="801.97" y1="337.74" x2="825.35" y2="422.03" stroke-opacity="0.26"/><line x1="778.7" y1="348.52" x2="792.15" y2="397.86" stroke-opacity="0.33"/><line x1="640.82" y1="343.76" x2="650.69" y2="409.13" stroke-opacity="0.29"/><line x1="802.16" y1="357.96" x2="812.17" y2="418.47" stroke-opacity="0.23"/><line x1="646.86" y1="344.28" x2="685.67" y2="469.01" stroke-opacity="0.35"/><line x1="772.48" y1="351.39" x2="807.51" y2="484.49" stroke-opacity="0.29"/><line x1="715.03" y1="325.64" x2="733.59" y2="392.41" stroke-opacity="0.22"/><line x1="799.45" y1="348.13" x2="828.46" y2="484.96" stroke-opacity="0.21"/><line x1="638.09" y1="252.14" x2="673.28" y2="462.7" stroke-opacity="0.22"/><line x1="762.02" y1="315.79" x2="794.66" y2="485.49" stroke-opacity="0.3"/><line x1="683.34" y1="329.19" x2="724.59" y2="459.98" stroke-opacity="0.3"/><line x1="751.43" y1="274.91" x2="771.76" y2="443.63" stroke-opacity="0.26"/><line x1="615.12" y1="298.14" x2="668.96" y2="463.94" stroke-opacity="0.24"/><line x1="774.94" y1="335.6" x2="792.53" y2="443.76" stroke-opacity="0.28"/><line x1="740.41" y1="305.18" x2="799.3" y2="505.27" stroke-opacity="0.32"/><line x1="752.77" y1="346.62" x2="769.52" y2="489.27" stroke-opacity="0.25"/><line x1="660.99" y1="338.73" x2="677.5" y2="473.17" stroke-opacity="0.29"/><line x1="734.34" y1="304.26" x2="798.99" y2="489.37" stroke-opacity="0.26"/><line x1="736.84" y1="274.85" x2="777.44" y2="465.52" stroke-opacity="0.27"/><line x1="745.46" y1="275.92" x2="788.13" y2="396.83" stroke-opacity="0.28"/><line x1="673.56" y1="369.33" x2="683.54" y2="416.66" stroke-opacity="0.24"/><line x1="662.24" y1="290" x2="697.4" y2="387.31" stroke-opacity="0.18"/><line x1="659.45" y1="280.9" x2="688.61" y2="393.23" stroke-opacity="0.27"/><line x1="741.23" y1="334.56" x2="746.51" y2="374.35" stroke-opacity="0.23"/><line x1="653.48" y1="272.44" x2="724.56" y2="466.08" stroke-opacity="0.22"/><line x1="620.27" y1="316.96" x2="672.42" y2="456.58" stroke-opacity="0.21"/><line x1="732.66" y1="355.25" x2="751.82" y2="477.58" stroke-opacity="0.31"/><line x1="726.18" y1="290.85" x2="779.91" y2="440.69" stroke-opacity="0.26"/><line x1="796.76" y1="363.39" x2="820.17" y2="471.1" stroke-opacity="0.33"/><line x1="621.9" y1="263.84" x2="658.43" y2="422.73" stroke-opacity="0.17"/></g>
<rect x="640" y="334" width="176.3" height="85.6" filter="url(#speck)" opacity="0.5"/>
<g clip-path="url(#c2)" stroke="#fff" stroke-width="0.6" fill="none"><line x1="699.86" y1="460.49" x2="801.71" y2="535.24" stroke-opacity="0.38"/><line x1="597.84" y1="435.79" x2="784.77" y2="573.58" stroke-opacity="0.66"/><line x1="704.36" y1="388.19" x2="785.37" y2="501.46" stroke-opacity="0.45"/><line x1="658.78" y1="474.58" x2="733.57" y2="536.78" stroke-opacity="0.48"/><line x1="622.76" y1="444.66" x2="700.15" y2="505.79" stroke-opacity="0.61"/><line x1="749.75" y1="393.04" x2="821.29" y2="455.18" stroke-opacity="0.67"/><line x1="747.87" y1="424.3" x2="807.36" y2="462.97" stroke-opacity="0.7"/><line x1="626.16" y1="420.63" x2="757.04" y2="527.52" stroke-opacity="0.53"/><line x1="737.23" y1="395.83" x2="804.48" y2="470.03" stroke-opacity="0.5"/><line x1="648.94" y1="404.44" x2="749.37" y2="491.43" stroke-opacity="0.43"/><line x1="730.49" y1="452.73" x2="811.75" y2="492.53" stroke-opacity="0.47"/><line x1="785.21" y1="483.41" x2="817.42" y2="511.77" stroke-opacity="0.61"/><line x1="657.73" y1="411.24" x2="772.84" y2="531.47" stroke-opacity="0.48"/><line x1="716.18" y1="392.43" x2="884.74" y2="518.33" stroke-opacity="0.36"/><line x1="599.83" y1="445.71" x2="784.52" y2="539.74" stroke-opacity="0.57"/><line x1="642.47" y1="363.97" x2="789.89" y2="530.14" stroke-opacity="0.34"/><line x1="683.5" y1="435.06" x2="764.9" y2="503.19" stroke-opacity="0.34"/><line x1="704.81" y1="471.64" x2="781.41" y2="510.75" stroke-opacity="0.62"/><line x1="696.26" y1="438.64" x2="862.43" y2="518.85" stroke-opacity="0.69"/><line x1="722.42" y1="435.46" x2="908.99" y2="528.35" stroke-opacity="0.37"/><line x1="730.56" y1="478.77" x2="776.74" y2="527.21" stroke-opacity="0.4"/><line x1="756.9" y1="393.46" x2="846.23" y2="477.7" stroke-opacity="0.35"/><line x1="698.52" y1="399.25" x2="800.57" y2="454.07" stroke-opacity="0.31"/><line x1="576.95" y1="392.1" x2="723.31" y2="550.54" stroke-opacity="0.34"/><line x1="665.55" y1="402.39" x2="766.4" y2="496.46" stroke-opacity="0.67"/><line x1="681.43" y1="402.46" x2="730.28" y2="452.91" stroke-opacity="0.55"/><line x1="667.69" y1="444.93" x2="790.37" y2="554.03" stroke-opacity="0.39"/><line x1="688.67" y1="391.47" x2="785.52" y2="497.23" stroke-opacity="0.34"/><line x1="655.44" y1="426.39" x2="707.08" y2="481.97" stroke-opacity="0.58"/><line x1="734.71" y1="409.56" x2="775.86" y2="450.76" stroke-opacity="0.33"/><line x1="702" y1="389.93" x2="787.08" y2="496.15" stroke-opacity="0.42"/><line x1="762.8" y1="407" x2="797.56" y2="443.95" stroke-opacity="0.34"/><line x1="780.66" y1="463.61" x2="834.45" y2="496.82" stroke-opacity="0.69"/><line x1="685.05" y1="451.7" x2="829.05" y2="532.16" stroke-opacity="0.43"/><line x1="641.51" y1="413.29" x2="721.22" y2="488.7" stroke-opacity="0.44"/><line x1="592.29" y1="422.49" x2="735.73" y2="563.14" stroke-opacity="0.46"/><line x1="733.12" y1="413.95" x2="846.63" y2="518.99" stroke-opacity="0.59"/><line x1="673.44" y1="413.51" x2="745.78" y2="448.79" stroke-opacity="0.3"/><line x1="783.05" y1="448.55" x2="809.97" y2="478.25" stroke-opacity="0.48"/><line x1="744.05" y1="434.19" x2="849.15" y2="515.88" stroke-opacity="0.32"/><line x1="619.99" y1="401.74" x2="714.46" y2="470.98" stroke-opacity="0.65"/><line x1="636.56" y1="424.48" x2="696.98" y2="464.2" stroke-opacity="0.4"/><line x1="580.29" y1="414.26" x2="782.49" y2="512.72" stroke-opacity="0.43"/><line x1="757.76" y1="433.09" x2="852.4" y2="528.44" stroke-opacity="0.68"/><line x1="588.03" y1="430.6" x2="733.48" y2="527.72" stroke-opacity="0.59"/></g>
<g clip-path="url(#c2)" stroke="#fff" stroke-width="0.55" fill="none"><line x1="690.9" y1="402.99" x2="646.56" y2="476.79" stroke-opacity="0.22"/><line x1="746.51" y1="468.32" x2="674.67" y2="541.24" stroke-opacity="0.34"/><line x1="720.89" y1="465.65" x2="658.78" y2="503.38" stroke-opacity="0.27"/><line x1="810.49" y1="466.58" x2="706.12" y2="537.42" stroke-opacity="0.49"/><line x1="694.56" y1="398.69" x2="587.65" y2="457.54" stroke-opacity="0.21"/><line x1="779.12" y1="471.33" x2="693.92" y2="540.92" stroke-opacity="0.23"/><line x1="739.08" y1="424.96" x2="565.98" y2="572.04" stroke-opacity="0.22"/><line x1="701.53" y1="409.13" x2="664.17" y2="445.34" stroke-opacity="0.28"/><line x1="724.33" y1="428.56" x2="699.11" y2="468.84" stroke-opacity="0.49"/><line x1="724.26" y1="415.01" x2="618.88" y2="516.44" stroke-opacity="0.23"/><line x1="783.21" y1="362.54" x2="607.27" y2="501.6" stroke-opacity="0.38"/><line x1="828.55" y1="377.41" x2="753.03" y2="504.61" stroke-opacity="0.35"/><line x1="816.4" y1="401.55" x2="664.74" y2="507.72" stroke-opacity="0.47"/><line x1="731.93" y1="441.51" x2="656.34" y2="479.93" stroke-opacity="0.23"/><line x1="783.93" y1="380.78" x2="605.79" y2="479.95" stroke-opacity="0.29"/><line x1="681.04" y1="408.04" x2="644.65" y2="451.73" stroke-opacity="0.33"/><line x1="789.88" y1="367.62" x2="693.22" y2="519.6" stroke-opacity="0.21"/><line x1="696.27" y1="425.9" x2="654.08" y2="468.15" stroke-opacity="0.33"/><line x1="781.91" y1="419.08" x2="608.59" y2="553.31" stroke-opacity="0.4"/><line x1="848.9" y1="402.83" x2="698.52" y2="539.73" stroke-opacity="0.4"/></g>
<g clip-path="url(#c2)" stroke="#fff" stroke-width="0.55" fill="none"><line x1="806.02" y1="437.43" x2="810.05" y2="530.88" stroke-opacity="0.44"/><line x1="695.67" y1="398.88" x2="718.93" y2="469" stroke-opacity="0.28"/><line x1="728.52" y1="355.54" x2="789.4" y2="538.43" stroke-opacity="0.37"/><line x1="628.78" y1="373.9" x2="660.89" y2="480.6" stroke-opacity="0.46"/><line x1="791.61" y1="413.45" x2="822.51" y2="535.37" stroke-opacity="0.31"/><line x1="688.5" y1="321.81" x2="707.79" y2="526.28" stroke-opacity="0.42"/><line x1="632.13" y1="380" x2="681.41" y2="555.09" stroke-opacity="0.33"/><line x1="790.03" y1="440.32" x2="820.34" y2="539.2" stroke-opacity="0.47"/><line x1="706.06" y1="363.9" x2="736.21" y2="555.04" stroke-opacity="0.48"/><line x1="731.04" y1="474.22" x2="736.44" y2="534.69" stroke-opacity="0.44"/></g>
<rect x="640" y="423.3" width="176.3" height="84.3" filter="url(#speck)" opacity="0.35"/>
<g clip-path="url(#c3)" stroke="#fff" stroke-width="0.5" fill="none"><line x1="717.47" y1="493.45" x2="710.18" y2="539.45" stroke-opacity="0.16"/><line x1="712.45" y1="547.28" x2="737.21" y2="626.63" stroke-opacity="0.12"/><line x1="644.54" y1="469.85" x2="706.27" y2="649.77" stroke-opacity="0.12"/><line x1="718.56" y1="430.42" x2="685.26" y2="635.78" stroke-opacity="0.2"/><line x1="699.47" y1="455.46" x2="798.12" y2="636.68" stroke-opacity="0.15"/><line x1="599.99" y1="447.39" x2="693.3" y2="605.44" stroke-opacity="0.21"/><line x1="644.28" y1="497" x2="705.88" y2="662.49" stroke-opacity="0.2"/><line x1="743.15" y1="560.06" x2="756.18" y2="600" stroke-opacity="0.16"/><line x1="727.71" y1="478.37" x2="758.8" y2="577.04" stroke-opacity="0.09"/><line x1="673.72" y1="456.73" x2="716.13" y2="632.35" stroke-opacity="0.14"/><line x1="823.12" y1="492.63" x2="802.68" y2="670.01" stroke-opacity="0.18"/><line x1="709.05" y1="504.71" x2="759.87" y2="655.07" stroke-opacity="0.18"/><line x1="716.9" y1="511.66" x2="746.92" y2="560.65" stroke-opacity="0.13"/><line x1="739.63" y1="525.95" x2="744.67" y2="627.18" stroke-opacity="0.21"/></g>
<text x="643" y="348.7" font-size="12" font-weight="bold" fill="#fff">As-ground</text>
<text x="644.4" y="435.8" font-size="12" font-weight="bold" fill="#111">Dia-40 min</text>
<text x="645.1" y="526" font-size="12.2" font-weight="bold" fill="#1a78c8">GDA-40 min</text>
<rect x="769.5" y="414" width="42" height="2.1" fill="#000"/>
<text x="769.4" y="411.6" font-size="10.6" fill="#000">200 μm</text>
<rect x="769.5" y="503" width="42" height="2.1" fill="#000"/>
<text x="769.4" y="499.8" font-size="10.6" fill="#000">200 μm</text>
<rect x="769.5" y="592" width="42" height="2.1" fill="#000"/>
<text x="769.4" y="589.7" font-size="10.6" fill="#000">200 μm</text>
<text x="733.8" y="635.6" font-size="19" text-anchor="middle" fill="#111" font-weight="normal" >(e)</text>
<rect x="824.8" y="0" width="1.2" height="652" fill="#111"/>
</svg>
</body></html>
